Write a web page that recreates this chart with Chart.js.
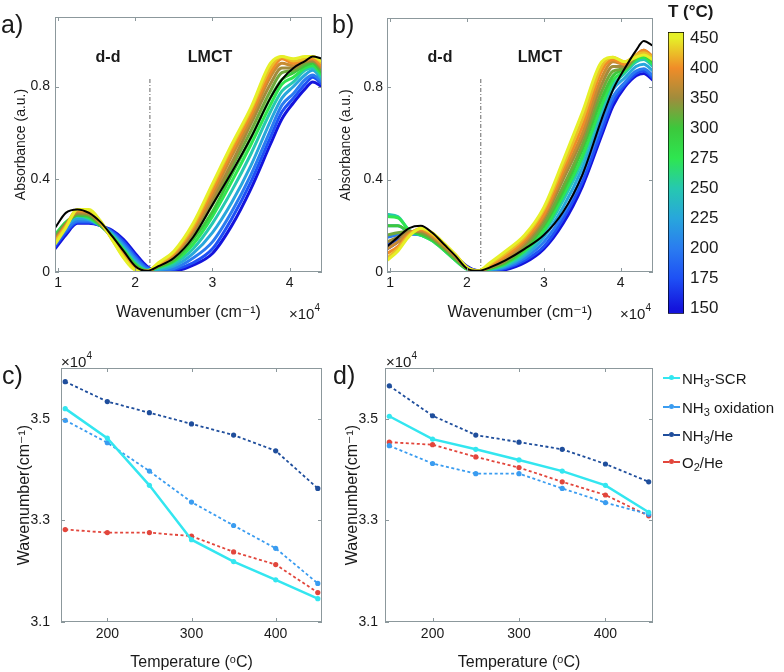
<!DOCTYPE html>
<html><head><meta charset="utf-8">
<script src="https://cdn.jsdelivr.net/npm/chart.js@4.4.1/dist/chart.umd.min.js"></script>
<style>
body{margin:0;background:#fff;width:784px;height:672px;overflow:hidden;position:relative;font-family:"Liberation Sans",Arial,"DejaVu Sans",sans-serif;color:#1a1a1a}
canvas{position:absolute}
.t{position:absolute;white-space:nowrap;line-height:1}
.pl{font-size:25px}
.ann{font-size:16px;font-weight:bold;transform:translate(-50%,-50%)}
.exp{font-size:15px}
.exp sup{font-size:10px;position:relative;top:-2px}
.lg{position:absolute;left:663px;height:20px;display:flex;align-items:center;font-size:15px;white-space:nowrap}
.lg .sw{position:relative;width:17px;height:12px;margin-right:2px}
.lg .sw i{position:absolute;left:0;right:0;top:5px;height:0}
.lg .sw b{position:absolute;left:6px;top:3px;width:5px;height:5px;border-radius:50%}
.sb{font-size:11px;position:relative;top:5px}
</style></head><body>
<canvas id="ca" width="330" height="330" style="left:0;top:0"></canvas>
<canvas id="cb" width="330" height="330" style="left:330px;top:0"></canvas>
<canvas id="cbar" width="144" height="330" style="left:640px;top:0"></canvas>
<canvas id="cc" width="330" height="332" style="left:0;top:340px"></canvas>
<canvas id="cd" width="330" height="332" style="left:330px;top:340px"></canvas>

<div class="t pl" style="left:1px;top:12px">a)</div>
<div class="t pl" style="left:332px;top:12px">b)</div>
<div class="t pl" style="left:2px;top:363px">c)</div>
<div class="t pl" style="left:333px;top:363px">d)</div>
<div class="t ann" style="left:108px;top:57px">d-d</div>
<div class="t ann" style="left:210px;top:57px">LMCT</div>
<div class="t ann" style="left:440px;top:57px">d-d</div>
<div class="t ann" style="left:540px;top:57px">LMCT</div>
<div class="t exp" style="left:289px;top:305px">×10<sup>4</sup></div>
<div class="t exp" style="left:620px;top:305px">×10<sup>4</sup></div>
<div class="t exp" style="left:61px;top:353px">×10<sup>4</sup></div>
<div class="t exp" style="left:386px;top:353px">×10<sup>4</sup></div>
<div class="t" style="left:668px;top:3px;font-size:17px;font-weight:bold">T (°C)</div>

<div class="lg" style="top:368px"><span class="sw"><i style="border-top:2.5px solid #33e6f0"></i><b style="background:#33e6f0"></b></span>NH<span class="sb">3</span>-SCR</div>
<div class="lg" style="top:397px"><span class="sw"><i style="border-top:2px dashed #3a9cf0"></i><b style="background:#3a9cf0"></b></span>NH<span class="sb">3</span>&nbsp;oxidation</div>
<div class="lg" style="top:425px"><span class="sw"><i style="border-top:2px dashed #1f4e9c"></i><b style="background:#1f4e9c"></b></span>NH<span class="sb">3</span>/He</div>
<div class="lg" style="top:452px"><span class="sw"><i style="border-top:2px dashed #e2463c"></i><b style="background:#e2463c"></b></span>O<span class="sb">2</span>/He</div>

<script>
// ---------- spectra (a, b): wavenumber in units of 10^4 cm^-1 ----------
const specX = [0.96,1.1,1.25,1.4,1.55,1.7,1.85,2.0,2.15,2.3,2.5,2.75,3.0,3.25,3.5,3.75,3.9,4.05,4.2,4.3,4.42];
const curveTemps = [150,175,200,225,250,275,300,325,350,375,400,425,450];

const a150 = [0.10,0.16,0.21,0.21,0.20,0.18,0.14,0.08,0.025,0.005,0.005,0.03,0.08,0.20,0.36,0.55,0.66,0.73,0.79,0.82,0.80];
const a175 = [0.11,0.17,0.215,0.215,0.20,0.175,0.13,0.07,0.02,0.005,0.01,0.04,0.10,0.23,0.39,0.58,0.69,0.75,0.81,0.84,0.81];
const a200 = [0.12,0.18,0.22,0.22,0.20,0.17,0.12,0.06,0.015,0.007,0.015,0.06,0.13,0.26,0.42,0.61,0.72,0.77,0.83,0.85,0.82];
const a225 = [0.14,0.20,0.23,0.225,0.20,0.165,0.11,0.05,0.01,0.01,0.025,0.08,0.17,0.30,0.46,0.65,0.75,0.80,0.85,0.87,0.83];
const a250 = [0.16,0.21,0.24,0.23,0.20,0.16,0.10,0.04,0.008,0.015,0.035,0.10,0.21,0.35,0.51,0.69,0.78,0.82,0.87,0.88,0.84];
const a275 = [0.16,0.215,0.245,0.235,0.20,0.155,0.095,0.035,0.006,0.02,0.045,0.12,0.24,0.39,0.55,0.72,0.81,0.84,0.88,0.89,0.85];
const a300 = [0.15,0.21,0.245,0.24,0.20,0.15,0.09,0.03,0.005,0.022,0.05,0.14,0.26,0.42,0.58,0.75,0.83,0.86,0.89,0.90,0.86];
const a325 = [0.15,0.21,0.25,0.245,0.205,0.15,0.085,0.025,0.004,0.025,0.06,0.16,0.29,0.45,0.61,0.78,0.86,0.87,0.90,0.91,0.87];
const a350 = [0.14,0.205,0.255,0.25,0.21,0.15,0.08,0.02,0.003,0.028,0.065,0.17,0.31,0.47,0.64,0.81,0.88,0.88,0.91,0.91,0.88];
const a375 = [0.14,0.20,0.26,0.255,0.21,0.145,0.075,0.015,0.003,0.03,0.075,0.18,0.33,0.50,0.66,0.84,0.90,0.89,0.91,0.92,0.88];
const a400 = [0.13,0.20,0.265,0.26,0.215,0.145,0.07,0.012,0.003,0.033,0.08,0.19,0.35,0.52,0.68,0.86,0.92,0.90,0.92,0.92,0.89];
const a425 = [0.13,0.195,0.27,0.265,0.215,0.14,0.065,0.01,0.003,0.036,0.085,0.20,0.37,0.54,0.70,0.88,0.93,0.91,0.92,0.93,0.90];
const a450 = [0.12,0.19,0.27,0.27,0.22,0.14,0.06,0.008,0.003,0.04,0.09,0.21,0.38,0.55,0.71,0.90,0.93,0.92,0.93,0.93,0.91];
const aBlack = [0.19,0.255,0.27,0.255,0.215,0.155,0.09,0.025,0.005,0.025,0.06,0.15,0.29,0.43,0.58,0.75,0.83,0.88,0.91,0.93,0.92];

const b150 = [0.10,0.13,0.165,0.17,0.15,0.115,0.07,0.025,0.005,0.004,0.01,0.04,0.10,0.21,0.37,0.59,0.72,0.80,0.85,0.86,0.83];
const b175 = [0.12,0.14,0.165,0.165,0.145,0.11,0.065,0.02,0.005,0.005,0.015,0.05,0.11,0.23,0.39,0.61,0.74,0.81,0.86,0.87,0.84];
const b200 = [0.15,0.16,0.165,0.16,0.14,0.105,0.06,0.018,0.005,0.007,0.02,0.06,0.13,0.25,0.42,0.64,0.76,0.82,0.87,0.88,0.85];
const b225 = [0.20,0.20,0.17,0.16,0.14,0.10,0.055,0.015,0.005,0.01,0.025,0.07,0.15,0.28,0.45,0.67,0.79,0.84,0.89,0.90,0.87];
const b250 = [0.25,0.24,0.18,0.16,0.135,0.095,0.05,0.012,0.005,0.012,0.03,0.08,0.17,0.31,0.48,0.70,0.81,0.86,0.91,0.92,0.89];
const b275 = [0.24,0.235,0.18,0.16,0.135,0.095,0.05,0.012,0.005,0.014,0.035,0.09,0.18,0.33,0.50,0.72,0.83,0.87,0.92,0.93,0.90];
const b300 = [0.20,0.20,0.175,0.165,0.14,0.10,0.055,0.014,0.005,0.016,0.04,0.10,0.20,0.35,0.53,0.75,0.85,0.88,0.93,0.94,0.91];
const b325 = [0.16,0.17,0.175,0.17,0.145,0.105,0.06,0.015,0.005,0.018,0.045,0.11,0.21,0.37,0.55,0.78,0.87,0.88,0.93,0.95,0.92];
const b350 = [0.13,0.15,0.175,0.175,0.15,0.11,0.065,0.017,0.005,0.02,0.05,0.12,0.23,0.40,0.58,0.81,0.89,0.89,0.94,0.95,0.92];
const b375 = [0.10,0.13,0.17,0.18,0.155,0.115,0.07,0.018,0.005,0.025,0.06,0.13,0.24,0.42,0.60,0.84,0.91,0.90,0.94,0.96,0.93];
const b400 = [0.08,0.11,0.165,0.185,0.16,0.12,0.072,0.02,0.005,0.03,0.07,0.14,0.25,0.44,0.63,0.87,0.92,0.90,0.94,0.96,0.93];
const b425 = [0.06,0.10,0.16,0.19,0.165,0.12,0.075,0.02,0.005,0.035,0.08,0.15,0.27,0.46,0.66,0.89,0.93,0.91,0.94,0.95,0.93];
const b450 = [0.05,0.09,0.155,0.19,0.17,0.125,0.075,0.02,0.005,0.04,0.09,0.16,0.28,0.48,0.69,0.91,0.93,0.91,0.93,0.94,0.92];
const bBlack = [0.11,0.15,0.19,0.20,0.17,0.12,0.07,0.015,0.005,0.02,0.05,0.10,0.16,0.26,0.42,0.66,0.79,0.88,0.96,1.0,0.98];

const ddLineXa = [2.19,2.19];
const ddLineXb = [2.18,2.18];
const ddLineY = [0,0.84];
const xTicksAB = [1,2,3,4];
const yTicksAB = [0,0.4,0.8];

// ---------- colorbar ----------
const cbLabels = ['150','175','200','225','250','275','300','350','400','450'];
const cbColors = ['#1414dc','#1e50f5','#2a7cf0','#28a6dc','#26c8b0','#2ee650','#3cc83c','#a08c3c','#f08c28','#e6f028'];
const cbRange = [-0.17, 9.2];
const curveColors = ['#1414dc','#1e50f5','#2a7cf0','#28a6dc','#26c8b0','#2ee650','#3cc83c','#6eaa3c','#a08c3c','#c88c32','#f08c28','#ebbe28','#e6f028'];

// ---------- c, d: wavenumber (x10^4 cm^-1) vs temperature ----------
const tempsCD = [150,200,250,300,350,400,450];
const scrC = [3.520,3.462,3.369,3.262,3.219,3.183,3.146];
const oxC  = [3.497,3.453,3.397,3.336,3.290,3.245,3.176];
const heC  = [3.573,3.534,3.512,3.490,3.468,3.437,3.363];
const o2C  = [3.282,3.276,3.276,3.269,3.238,3.213,3.158];
const scrD = [3.505,3.460,3.440,3.419,3.397,3.369,3.316];
const oxD  = [3.447,3.412,3.392,3.392,3.363,3.335,3.312];
const heD  = [3.565,3.506,3.468,3.454,3.440,3.411,3.376];
const o2D  = [3.454,3.449,3.425,3.404,3.376,3.350,3.309];
const xTicksCD = [200,300,400];
const yTicksCD = [3.1,3.3,3.5];

Chart.defaults.font.family = '"Liberation Sans", Arial, "DejaVu Sans", sans-serif';
Chart.defaults.color = '#1a1a1a';

const AXC = '#8c989c';
const boxPlugin = {
  id: 'box',
  afterDraw(chart) {
    const {ctx, chartArea: a, scales} = chart;
    ctx.save();
    ctx.strokeStyle = AXC; ctx.lineWidth = 1;
    ctx.strokeRect(Math.round(a.left)+0.5, Math.round(a.top)+0.5, Math.round(a.right-a.left)-1, Math.round(a.bottom-a.top)-1);
    const L = 4;
    ctx.beginPath();
    scales.x.ticks.forEach(t => {
      const p = Math.round(scales.x.getPixelForValue(t.value))+0.5;
      ctx.moveTo(p, a.bottom); ctx.lineTo(p, a.bottom-L);
      ctx.moveTo(p, a.top); ctx.lineTo(p, a.top+L);
    });
    scales.y.ticks.forEach(t => {
      const p = Math.round(scales.y.getPixelForValue(t.value))+0.5;
      ctx.moveTo(a.left, p); ctx.lineTo(a.left+L, p);
      ctx.moveTo(a.right, p); ctx.lineTo(a.right-L, p);
    });
    ctx.stroke();
    ctx.restore();
  }
};

function spectraDatasets(list, black, ddX) {
  const ds = list.map((arr, i) => ({
    data: arr.map((y, j) => ({x: specX[j], y})),
    borderColor: curveColors[i], borderWidth: 3, pointRadius: 0,
    cubicInterpolationMode: 'monotone', order: 100 - i
  }));
  ds.push({data: black.map((y, j) => ({x: specX[j], y})), borderColor: '#000', borderWidth: 2,
    pointRadius: 0, cubicInterpolationMode: 'monotone', order: 0});
  ds.push({data: ddX.map((x, j) => ({x, y: ddLineY[j]})), borderColor: '#666', borderWidth: 1,
    borderDash: [4,2,1,2], pointRadius: 0, order: 200});
  return ds;
}

const noGrid = {display: false, drawTicks: false};

function spectraChart(id, list, black, ddX, o) {
  new Chart(document.getElementById(id), {
    type: 'line',
    data: {datasets: spectraDatasets(list, black, ddX)},
    options: {
      responsive: false, animation: false, devicePixelRatio: 1,
      layout: {padding: {left: 0, top: o.top, right: o.right, bottom: 0}},
      plugins: {legend: {display: false}, tooltip: {enabled: false}},
      scales: {
        x: {type: 'linear', min: 0.96, max: 4.42,
          afterBuildTicks: s => { s.ticks = xTicksAB.map(v => ({value: v})); },
          afterFit: s => { s.height = 58; },
          grid: noGrid, border: {display: false},
          ticks: {font: {size: 14}, padding: 3, maxRotation: 0, callback: v => String(v)},
          title: {display: true, text: 'Wavenumber (cm⁻¹)', font: {size: 16}, padding: {top: 0, bottom: 8}}},
        y: {type: 'linear', min: 0, max: 1.1,
          afterBuildTicks: s => { s.ticks = yTicksAB.map(v => ({value: v})); },
          afterFit: s => { s.width = o.yw; },
          grid: noGrid, border: {display: false},
          ticks: {font: {size: 14}, padding: o.tp, callback: v => v === 0 ? '0' : String(v)},
          title: {display: true, text: 'Absorbance (a.u.)', font: {size: 14}, padding: {top: o.tt, bottom: 0}}}
      }
    },
    plugins: [boxPlugin]
  });
}

spectraChart('ca', [a150,a175,a200,a225,a250,a275,a300,a325,a350,a375,a400,a425,a450], aBlack, ddLineXa,
  {top: 17, right: 8, yw: 55, tp: 5, tt: 13});
spectraChart('cb', [b150,b175,b200,b225,b250,b275,b300,b325,b350,b375,b400,b425,b450], bBlack, ddLineXb,
  {top: 18, right: 7, yw: 57, tp: 4, tt: 8});

// colorbar: gradient built from the y scale after layout
const gradPlugin = {
  id: 'grad',
  afterLayout(chart) {
    const y = chart.scales.y;
    const p0 = y.getPixelForValue(0), p1 = y.getPixelForValue(cbLabels.length - 1);
    if (!isFinite(p0) || !isFinite(p1)) return;
    const g = chart.ctx.createLinearGradient(0, p0, 0, p1);
    cbColors.forEach((col, i) => g.addColorStop(i / (cbColors.length - 1), col));
    chart.data.datasets[0].backgroundColor = g;
  }
};
new Chart(document.getElementById('cbar'), {
  type: 'bar',
  data: {labels: [''], datasets: [{
    data: [cbRange],
    backgroundColor: cbColors[0],
    borderColor: '#000', borderWidth: 1, borderSkipped: false,
    barPercentage: 1, categoryPercentage: 1
  }]},
  options: {
    responsive: false, animation: false, devicePixelRatio: 1,
    layout: {padding: {left: 28, top: 32, right: 0, bottom: 15}},
    plugins: {legend: {display: false}, tooltip: {enabled: false}},
    scales: {
      x: {display: false},
      y: {position: 'right', min: cbRange[0], max: cbRange[1],
        afterBuildTicks: s => { s.ticks = cbLabels.map((l, i) => ({value: i})); },
        afterFit: s => { s.width = 100; },
        grid: noGrid, border: {display: false},
        ticks: {font: {size: 17}, padding: 6, callback: v => cbLabels[v]}}
    }
  },
  plugins: [gradPlugin]
});

function cdChart(id, scr, ox, he, o2, o) {
  const mk = (arr, color, solid, ord) => ({
    data: arr.map((y, j) => ({x: tempsCD[j], y})),
    borderColor: color, backgroundColor: color, borderWidth: solid ? 2.5 : 1.8,
    borderDash: solid ? [] : [3, 2.5], pointRadius: 2.6, pointBorderWidth: 0,
    pointBackgroundColor: color, order: ord
  });
  new Chart(document.getElementById(id), {
    type: 'line',
    data: {datasets: [mk(scr, '#33e6f0', true, 0), mk(ox, '#3a9cf0', false, 1), mk(he, '#1f4e9c', false, 2), mk(o2, '#e2463c', false, 3)]},
    options: {
      responsive: false, animation: false, devicePixelRatio: 1,
      layout: {padding: {left: 0, top: 28, right: o.right, bottom: 0}},
      plugins: {legend: {display: false}, tooltip: {enabled: false}},
      scales: {
        x: {type: 'linear', min: 145, max: 455,
          afterBuildTicks: s => { s.ticks = xTicksCD.map(v => ({value: v})); },
          afterFit: s => { s.height = 50; },
          grid: noGrid, border: {display: false},
          ticks: {font: {size: 14}, padding: 4, maxRotation: 0, callback: v => String(v)},
          title: {display: true, text: 'Temperature (ᵒC)', font: {size: 16}, padding: {top: 0, bottom: 0}}},
        y: {type: 'linear', min: 3.1, max: 3.6,
          afterBuildTicks: s => { s.ticks = yTicksCD.map(v => ({value: v})); },
          afterFit: s => { s.width = o.yw; },
          grid: noGrid, border: {display: false},
          ticks: {font: {size: 14}, padding: o.tp, callback: v => v.toFixed(1)},
          title: {display: true, text: 'Wavenumber(cm⁻¹)', font: {size: 16}, padding: {top: o.tt, bottom: 0}}}
      }
    },
    plugins: [boxPlugin]
  });
}
cdChart('cc', scrC, oxC, heC, o2C, {right: 8, yw: 61, tp: 11, tt: 15});
cdChart('cd', scrD, oxD, heD, o2D, {right: 7, yw: 55, tp: 7, tt: 13});
</script>
</body></html>
